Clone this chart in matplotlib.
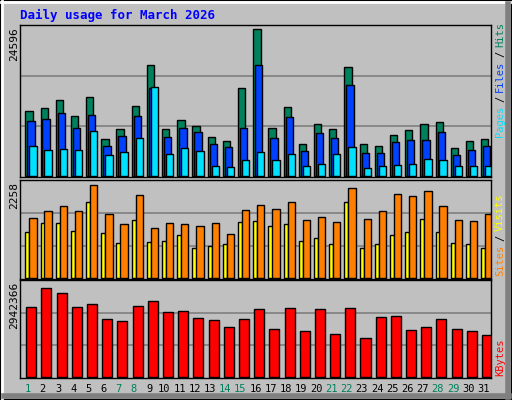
import matplotlib
matplotlib.use('Agg')
import matplotlib.pyplot as plt
from matplotlib.patches import Rectangle

# datos
days = list(range(1, 32))
weekend = [1, 7, 8, 14, 15, 21, 22, 28, 29]
hits = [10875, 11377, 12715, 10038, 13217, 6190, 7863, 11711, 18571, 7863, 9369, 8365, 6525, 5856, 14723, 24596,
        8031, 11544, 5354, 8700, 7863, 18237, 5354, 5019, 6860, 7696, 8700, 9035, 4685, 5856, 6190]
files = [9202, 9536, 10540, 8031, 10206, 5019, 6692, 10038, 14723, 6525, 8031, 7361, 5354, 4852, 8031, 18571,
         6358, 9871, 4183, 7194, 6358, 15225, 3848, 3848, 5689, 6023, 6023, 7361, 3513, 4350, 5019]
pages = [5019, 4350, 4517, 4350, 7529, 3513, 4015, 6358, 14890, 3681, 4685, 4183, 1673, 1506, 2677, 4015,
         2677, 3681, 1673, 2008, 3681, 4852, 1338, 1673, 1840, 2008, 2844, 2677, 1673, 1673, 1673]
visits = [1445, 1626, 1741, 1626, 2258, 1544, 1297, 2011, 1199, 1322, 1297, 1248, 1322, 1076, 1642, 1765,
          1667, 1839, 1396, 1470, 1346, 2184, 1420, 1617, 2036, 1987, 2110, 1741, 1396, 1371, 1544]
sites = [1125, 1322, 1322, 1149, 1839, 1100, 854, 1396, 878, 903, 1051, 731, 780, 829, 1346, 1371,
         1248, 1297, 903, 977, 829, 1839, 731, 829, 1051, 1125, 1420, 1125, 854, 829, 731]
kbytes = [2330363, 2942366, 2781400, 2330363, 2427014, 1911542, 1847108, 2362580, 2523665, 2137061, 2169278,
          1943759, 1879325, 1653806, 1911542, 2233712, 1589372, 2265929, 1524938, 2233712, 1428287, 2265929,
          1299419, 1975976, 2008193, 1557155, 1653806, 1911542, 1589372, 1524938, 1396070]

C_HITS, C_FILES, C_PAGES = '#00805c', '#0040ff', '#00e0ff'
C_SITES, C_VISITS, C_KB = '#ffff00', '#ff8000', '#ff0000'
BG = '#c0c0c0'
W, H = 512, 400
MONO = 'DejaVu Sans Mono'

fig = plt.figure(figsize=(W / 100, H / 100), dpi=100)
fig.patch.set_facecolor(BG)

# bordes 3D del fondo
bg = fig.add_axes([0, 0, 1, 1])
bg.set_xlim(0, W); bg.set_ylim(H, 0); bg.axis('off')
bg.add_patch(Rectangle((0, 0), W - 1, H - 1, fill=False, ec='black', lw=1))
bg.plot([1, W - 2], [1.5, 1.5], color='white', lw=2)
bg.plot([1.5, 1.5], [1, H - 2], color='white', lw=2)
bg.plot([W - 4, W - 4], [4, H - 3], color='#808080', lw=4)
bg.plot([4, W - 3], [H - 4, H - 4], color='#808080', lw=4)
bg.text(20, 15, 'Daily usage for March 2026', color='#0000ff', fontsize=9, fontweight='bold',
        family=MONO, va='center', ha='left')


def panel(top, bottom):
    ax = fig.add_axes([20 / W, 1 - bottom / H, (491 - 20) / W, (bottom - top) / H])
    ax.set_facecolor(BG)
    ax.set_xlim(0, 31)
    ax.set_xticks([]); ax.set_yticks([])
    for s in ax.spines.values():
        s.set_color('black'); s.set_linewidth(1)
    for f in (1 / 3, 2 / 3):
        ax.plot([0, 1], [f, f], transform=ax.transAxes, color='#808080', lw=1.2, zorder=0)
    return ax


x0 = [d - 1 for d in days]
kw = dict(align='edge', edgecolor='black', linewidth=1)

# panel hits/files/pages
ax1 = panel(25, 177)
ax1.bar([x + 0.35 for x in x0], hits, 0.48, color=C_HITS, **kw)
ax1.bar([x + 0.48 for x in x0], files, 0.48, color=C_FILES, **kw)
ax1.bar([x + 0.61 for x in x0], pages, 0.48, color=C_PAGES, **kw)
ax1.set_ylim(-max(hits) * 0.006, max(hits) * 1.027)

# panel sites/visits
ax2 = panel(180, 279)
ax2.bar([x + 0.35 for x in x0], sites, 0.27, color=C_SITES, **kw)
ax2.bar([x + 0.61 for x in x0], visits, 0.48, color=C_VISITS, **kw)
ax2.set_ylim(-max(visits) * 0.01, max(visits) * 1.05)

# panel kbytes
ax3 = panel(280, 378)
ax3.bar([x + 0.41 for x in x0], kbytes, 0.66, color=C_KB, **kw)
ax3.set_ylim(-max(kbytes) * 0.01, max(kbytes) * 1.09)

# etiquetas eje y
for y, txt in ((27, str(max(hits))), (182, str(max(visits))), (282, str(max(kbytes)))):
    bg.text(14, y, txt, rotation=90, fontsize=8, family=MONO, ha='center', va='top')

# etiquetas derecha
def right_label(y, parts):
    # parts de abajo hacia arriba
    for txt, col in parts:
        bg.text(500, y, txt, rotation=90, fontsize=7.5, family=MONO,
                color=col, ha='center', va='bottom')
        y -= len(txt) * 6.2 + 4

right_label(137, [('Pages', C_PAGES), ('/', 'black'), ('Files', C_FILES), ('/', 'black'), ('Hits', C_HITS)])
right_label(276, [('Sites', C_VISITS), ('/', 'black'), ('Visits', C_SITES)])
right_label(376, [('KBytes', C_KB)])

# dias
for d in days:
    col = C_HITS if d in weekend else 'black'
    bg.text(20 + (d - 0.5) * 471 / 31, 389, str(d), fontsize=7.5, family=MONO, color=col,
            ha='center', va='center')

plt.savefig('out.png', dpi=100, facecolor=BG)
